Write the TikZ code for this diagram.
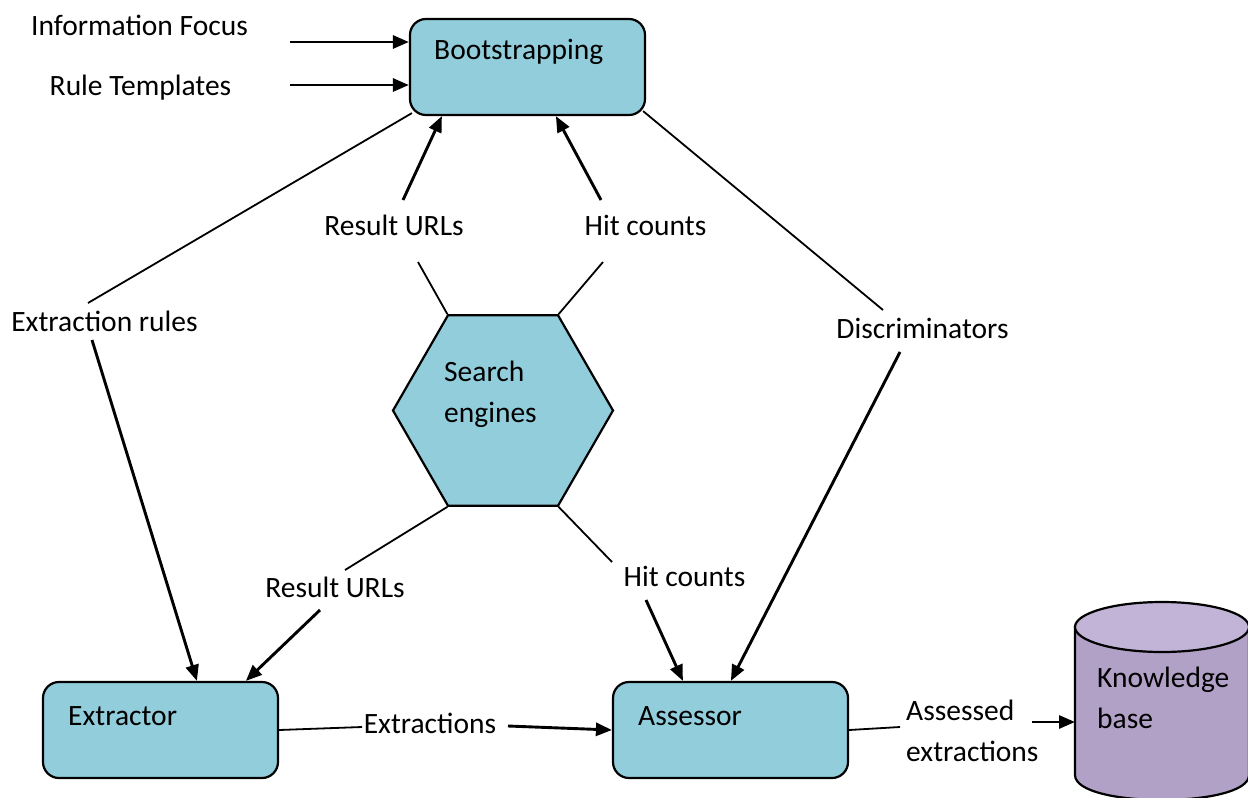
\documentclass[tikz,border=0pt]{standalone}
\usepackage{fontspec}
\setmainfont{Carlito}
\usetikzlibrary{arrows.meta,shapes.geometric}
\definecolor{aqua}{HTML}{92CDDC}
\definecolor{kbbody}{HTML}{B2A1C7}
\definecolor{kbtop}{HTML}{C2B4D6}
\tikzset{
  every node/.style={font=\fontsize{29.5}{41}\selectfont, inner sep=0pt},
  box/.style={draw, line width=2.2pt, fill=aqua, rounded corners=16pt,
              minimum width=235pt, minimum height=96pt},
  hexbox/.style={draw, line width=2.2pt, fill=aqua, regular polygon,
                 regular polygon sides=6, minimum size=220pt},
  plain/.style={line width=1.8pt},
  arr/.style={line width=2.9pt, -{Triangle[length=16pt,width=13pt]}},
  txt/.style={anchor=west, align=left},
}
\begin{document}
\begin{tikzpicture}[x=1pt,y=-1pt]
\useasboundingbox (0,0) rectangle (1248,798);

% main blocks
\node[box] (boot) at (527.5,67) {};
\node[box] (extr) at (160.5,730) {};
\node[box] (asse) at (730.5,730) {};
\node[hexbox] (search) at (503,410.5) {};

% knowledge base cylinder
\filldraw[fill=kbbody, line width=2.2pt]
  (1075,627) -- (1075,775) .. controls (1075,808.3) and (1249,808.3) .. (1249,775)
  -- (1249,627) -- cycle;
\filldraw[fill=kbtop, line width=2.2pt] (1162,627) ellipse [x radius=87, y radius=25];
\coordinate (kb) at (1075,722);

% block captions
\node[txt] (tboot) at (434,52) {Bootstrapping};
\node[txt] (textr) at (68,716) {Extractor};
\node[txt] (tasse) at (638,716) {Assessor};
\node[txt] (tsearch) at (444,394) {Search\\engines};
\node[txt] (tkb) at (1097,698) {Knowledge\\base};

% edge labels
\node (linf) at (139.5,25) {Information Focus};
\node (lrt) at (140.5,88) {Rule Templates};
\node (lrules) at (104.5,321) {Extraction rules};
\node (lurl1) at (394,225) {Result URLs};
\node (lhit1) at (645.5,225) {Hit counts};
\node (ldisc) at (922.5,328) {Discriminators};
\node (lurl2) at (335,587) {Result URLs};
\node (lhit2) at (684.5,576) {Hit counts};
\node (lext) at (430,723) {Extractions};
\node[txt] (lassd) at (906,731) {Assessed\\extractions};

% label-side ends of the connectors
\coordinate (inf) at (290,42);
\coordinate (rt) at (290,85);
\coordinate (er1) at (88,303);
\coordinate (er2) at (92,340);
\coordinate (ru1) at (418,262);
\coordinate (ru2) at (403,200);
\coordinate (hc1) at (603,262);
\coordinate (hc2) at (601,200);
\coordinate (di1) at (883,310);
\coordinate (di2) at (900,352);
\coordinate (ru3) at (345,570);
\coordinate (ru4) at (320,610);
\coordinate (hc3) at (612,562);
\coordinate (hc4) at (646,600);
\coordinate (ex1) at (362,727);
\coordinate (ex2) at (508,726);
\coordinate (ae1) at (900,727);
\coordinate (ae2) at (1032,722);

% inputs
\draw[arr] (inf) -- (inf -| boot.west);
\draw[arr] (rt) -- (rt -| boot.west);

% extraction rules
\draw[plain] ([shift={(3,-3)}]boot.south west) -- (er1);
\draw[arr] (er2) -- ([xshift=155pt]extr.north west);

% search engines to bootstrapping
\draw[plain] (search.120) -- (ru1);
\draw[arr] (ru2) -- ([xshift=33pt]boot.south west);
\draw[plain] (search.60) -- (hc1);
\draw[arr] (hc2) -- ([xshift=147pt]boot.south west);

% discriminators
\draw[plain] ([shift={(-3,-5)}]boot.south east) -- (di1);
\draw[arr] (di2) -- ([xshift=119pt]asse.north west);

% search engines to extractor and assessor
\draw[plain] (search.240) -- (ru3);
\draw[arr] (ru4) -- ([xshift=204pt]extr.north west);
\draw[plain] (search.300) -- (hc3);
\draw[arr] (hc4) -- ([xshift=71pt]asse.north west);

% extractions and results
\draw[plain] (extr.east) -- (ex1);
\draw[arr] (ex2) -- (asse.west);
\draw[plain] (asse.east) -- (ae1);
\draw[arr] (ae2) -- (kb);
\end{tikzpicture}
\end{document}
